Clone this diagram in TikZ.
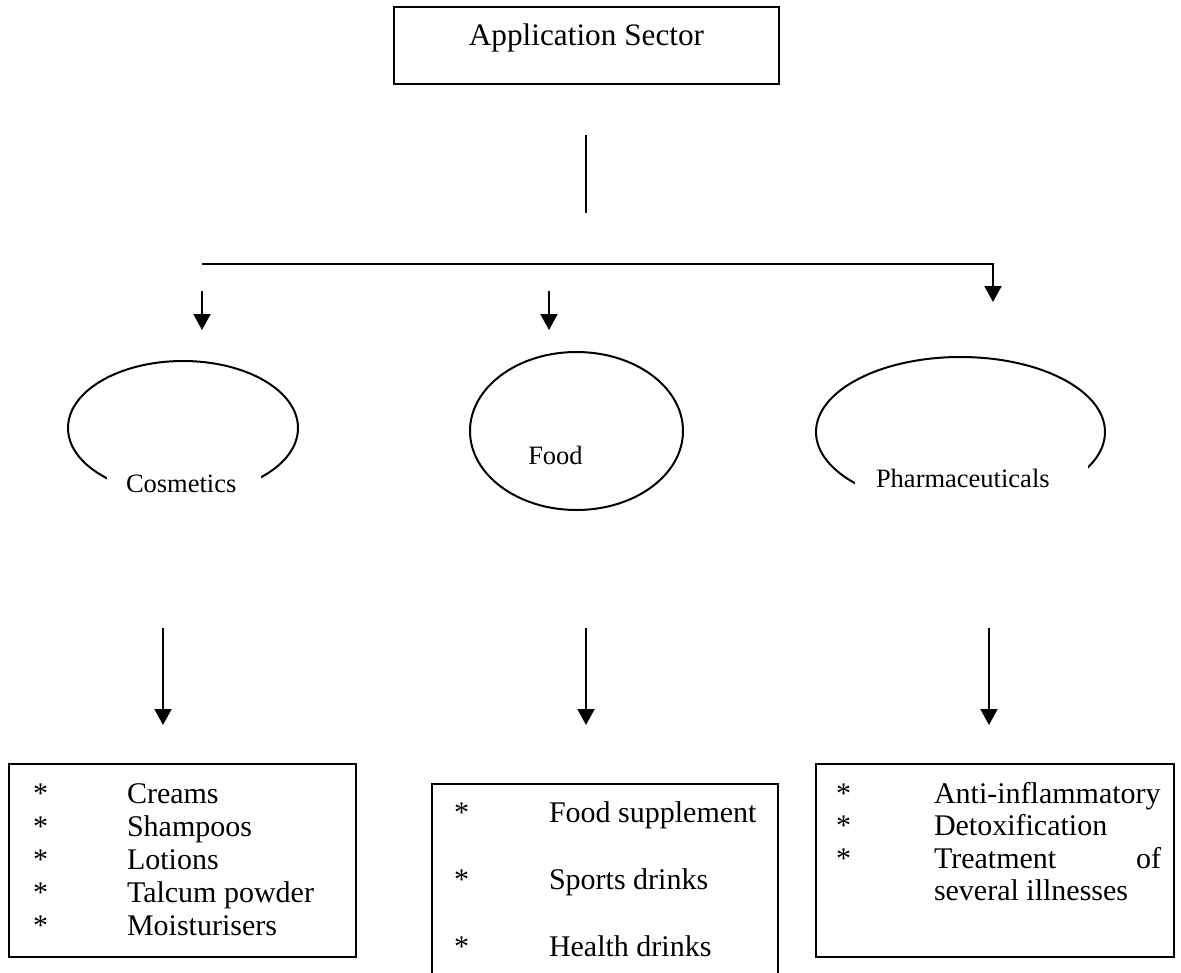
\documentclass[tikz,border=0pt]{standalone}
\usepackage{fontspec}
\setmainfont{Liberation Serif}
\usetikzlibrary{arrows.meta,shapes.geometric}

\begin{document}
\begin{tikzpicture}[x=0.4pt, y=-0.4pt, line width=0.8pt,
    every node/.style={font=\fontsize{12pt}{13.2pt}\selectfont},
    secbox/.style={draw, rectangle, inner sep=0pt},
    sector/.style={draw, ellipse, inner sep=0pt},
    lbl/.style={fill=white, inner xsep=0pt, inner ysep=6pt, text depth=5pt, font=\fontsize{10.6pt}{12pt}\selectfont},
    item/.style={anchor=base west, inner sep=0pt},
    arr/.style={-{Triangle[length=6.4pt, width=6.8pt]}}]

    % page size (the food box runs off the bottom)
    \useasboundingbox (0,0) rectangle (1181,973);
    \clip (0,0) rectangle (1181,973);

    % Title
    \node[secbox, anchor=base, minimum width=154pt, text height=15.2pt, text depth=15.6pt,
        font=\fontsize{12.5pt}{14pt}\selectfont] (title) at (586.5,45) {Application Sector};

    % Stem and branch line
    \coordinate (stemT) at (586,135);
    \coordinate (stemB) at (586,213);
    \draw (stemT) -- (stemB);

    \coordinate (brL) at (202,264);
    \coordinate (brR) at (993,264);
    \coordinate (phA) at (993,302);
    \draw[arr] (brL) -- (brR) -- (phA);

    \coordinate (cosA) at (202,291);
    \coordinate (cosB) at (202,330);
    \coordinate (fdA) at (549,291);
    \coordinate (fdB) at (549,330);
    \draw[arr] (cosA) -- (cosB);
    \draw[arr] (fdA) -- (fdB);

    % Sectors
    \node[sector, minimum width=92pt, minimum height=53.6pt] (cos) at (183,428) {};
    \node[sector, minimum width=85.2pt, minimum height=63.2pt] (food) at (576.5,431) {};
    \node[sector, minimum width=115.6pt, minimum height=60pt] (pharm) at (960.5,432) {};

    \node[lbl, anchor=base west] (coslbl) at (106,492) {\hspace*{7.6pt}Cosmetics\hspace*{10pt}};
    \node[lbl, anchor=base, inner ysep=2pt, text depth=] (foodlbl) at (555.5,464) {Food};
    \node[lbl, anchor=base west] (pharmlbl) at (854,487) {\hspace*{8.4pt}Pharmaceuticals\hspace*{15.2pt}};

    % Arrows down to the lists
    \foreach \n/\x in {cos/163, food/586, pharm/989} {
        \coordinate (\n T) at (\x,628);
        \coordinate (\n D) at (\x,725);
        \draw[arr] (\n T) -- (\n D);
    }

    % Lists
    \node[secbox, minimum width=138.8pt, minimum height=77.2pt] (cosbox) at (182.5,860.5) {};
    \node[secbox, minimum width=138.4pt, minimum height=86.4pt] (foodbox) at (605,892) {};
    \node[secbox, minimum width=143.2pt, minimum height=77.2pt] (pharmbox) at (995,860.5) {};

    \foreach \t [count=\i] in {Creams, Shampoos, Lotions, Talcum powder, Moisturisers} {
        \node[item] (cosstar\i) at (32,{770+33*\i}) {*};
        \node[item] (cositem\i) at (126,{770+33*\i}) {\t};
    }

    \foreach \t [count=\i] in {Food supplement, Sports drinks, Health drinks} {
        \node[item] (foodstar\i) at (453,{755+67*\i}) {*};
        \node[item] (fooditem\i) at (548,{755+67*\i}) {\t};
    }

    \node[item] (pharmstar1) at (835,803) {*};
    \node[item] (pharmstar2) at (835,835) {*};
    \node[item] (pharmstar3) at (835,868) {*};
    \node[item] (pharmitem1) at (933,803) {Anti-inflammatory};
    \node[item] (pharmitem2) at (933,835) {Detoxification};
    \node[item] (pharmitem3) at (933,868) {\makebox[90.8pt][s]{Treatment\hfill of}};
    \node[item] (pharmitem4) at (933,900) {several illnesses};
\end{tikzpicture}
\end{document}
